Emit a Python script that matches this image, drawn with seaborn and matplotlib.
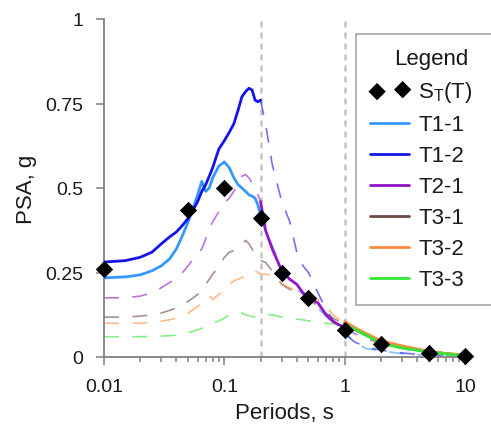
import numpy as np
import pandas as pd
import matplotlib
matplotlib.use("Agg")
import matplotlib.pyplot as plt
import seaborn as sns
from matplotlib.ticker import LogLocator, NullFormatter

# ---------------- data ----------------
periods = [0.01, 0.015, 0.02, 0.025, 0.03, 0.035, 0.04, 0.045, 0.05, 0.055,
           0.06, 0.065, 0.07, 0.075, 0.08, 0.09, 0.1, 0.11, 0.12, 0.13,
           0.14, 0.15, 0.16, 0.17, 0.18, 0.19, 0.2, 0.22, 0.25, 0.3,
           0.35, 0.4, 0.45, 0.5, 0.6, 0.7, 0.8, 0.9, 1.0, 1.2,
           1.5, 2.0, 3.0, 4.0, 5.0, 7.0, 10.0]

t1_1 = [0.234, 0.237, 0.243, 0.255, 0.27, 0.29, 0.32, 0.36, 0.40, 0.44,
        0.48, 0.52, 0.49, 0.50, 0.53, 0.565, 0.577, 0.56, 0.53, 0.51,
        0.50, 0.49, 0.48, 0.476, 0.47, 0.45, 0.42, 0.37, 0.33, 0.26,
        0.225, 0.20, 0.185, 0.17, 0.145, 0.12, 0.10, 0.085, 0.07, 0.045,
        0.025, 0.018, 0.01, 0.007, 0.005, 0.003, 0.002]

t1_2 = [0.281, 0.285, 0.295, 0.31, 0.335, 0.355, 0.37, 0.39, 0.41, 0.435,
        0.46, 0.49, 0.51, 0.535, 0.56, 0.615, 0.64, 0.665, 0.69, 0.73,
        0.77, 0.785, 0.795, 0.79, 0.76, 0.755, 0.76, 0.69, 0.57, 0.46,
        0.40, 0.31, 0.27, 0.25, 0.19, 0.14, 0.11, 0.09, 0.07, 0.045,
        0.03, 0.02, 0.012, 0.008, 0.006, 0.004, 0.002]

t2_1 = [0.175, 0.175, 0.18, 0.19, 0.205, 0.22, 0.235, 0.25, 0.27, 0.29,
        0.305, 0.32, 0.35, 0.38, 0.40, 0.43, 0.455, 0.47, 0.49, 0.51,
        0.535, 0.54, 0.53, 0.515, 0.50, 0.48, 0.46, 0.375, 0.32, 0.255,
        0.23, 0.215, 0.19, 0.175, 0.16, 0.125, 0.105, 0.095, 0.088, 0.07,
        0.055, 0.04, 0.025, 0.017, 0.012, 0.007, 0.004]

t3_1 = [0.118, 0.118, 0.121, 0.125, 0.13, 0.138, 0.145, 0.155, 0.165, 0.175,
        0.185, 0.195, 0.215, 0.23, 0.245, 0.265, 0.295, 0.31, 0.315, 0.325,
        0.335, 0.345, 0.335, 0.32, 0.30, 0.29, 0.285, 0.28, 0.255, 0.215,
        0.20, 0.19, 0.18, 0.17, 0.15, 0.13, 0.115, 0.105, 0.10, 0.082,
        0.065, 0.045, 0.03, 0.022, 0.016, 0.01, 0.005]

t3_2 = [0.10, 0.10, 0.10, 0.103, 0.106, 0.11, 0.115, 0.122, 0.13, 0.14,
        0.15, 0.16, 0.175, 0.18, 0.17, 0.185, 0.20, 0.215, 0.225, 0.23,
        0.235, 0.24, 0.245, 0.25, 0.255, 0.25, 0.245, 0.245, 0.24, 0.215,
        0.205, 0.195, 0.19, 0.185, 0.17, 0.15, 0.125, 0.11, 0.105, 0.088,
        0.07, 0.048, 0.033, 0.024, 0.017, 0.01, 0.006]

t3_3 = [0.06, 0.06, 0.06, 0.061, 0.062, 0.063, 0.065, 0.068, 0.072, 0.076,
        0.08, 0.085, 0.09, 0.095, 0.10, 0.107, 0.115, 0.125, 0.13, 0.133,
        0.13, 0.125, 0.122, 0.12, 0.118, 0.12, 0.122, 0.125, 0.125, 0.118,
        0.115, 0.112, 0.11, 0.107, 0.104, 0.10, 0.098, 0.097, 0.097, 0.082,
        0.065, 0.04, 0.027, 0.02, 0.015, 0.009, 0.004]

st_periods = [0.01, 0.05, 0.1, 0.2, 0.3, 0.5, 1.0, 2.0, 5.0, 10.0]
st_values = [0.26, 0.435, 0.50, 0.41, 0.25, 0.175, 0.08, 0.038, 0.012, 0.003]

series_names = ["T1-1", "T1-2", "T2-1", "T3-1", "T3-2", "T3-3"]
series_colors = ["#3399ff", "#1414e6", "#9414c8", "#6e4646", "#ff8a3d", "#33e633"]
solid_ranges = [(0.01, 0.2), (0.01, 0.2), (0.2, 1.0), (1.0, 10.0), (1.0, 10.0), (1.0, 10.0)]
x_ticks = [0.01, 0.1, 1, 10]
x_ticklabels = ["0.01", "0.1", "1", "10"]
y_ticks = [0, 0.25, 0.5, 0.75, 1]
y_ticklabels = ["0", "0.25", "0.5", "0.75", "1"]

# ---------------- style ----------------
sns.set_theme(style="white")
plt.rcParams["font.family"] = ["Liberation Sans", "DejaVu Sans"]
plt.rcParams["mathtext.fontset"] = "custom"
plt.rcParams["mathtext.rm"] = "Liberation Sans"

W, H = 491, 427
fig = plt.figure(figsize=(W / 100, H / 100), dpi=100)
ax = fig.add_axes([104 / W, 1 - 358 / H, (465 - 104) / W, (358 - 20) / H])

df = pd.DataFrame({"T": periods, "T1-1": t1_1, "T1-2": t1_2, "T2-1": t2_1,
                   "T3-1": t3_1, "T3-2": t3_2, "T3-3": t3_3})
long = df.melt(id_vars="T", var_name="series", value_name="PSA")

for v in (0.2, 1.0):
    ax.axvline(v, color="#c4c4c4", lw=1.8, ls=(0, (2.4, 2.0)), zorder=0)

for name, color, (lo, hi) in zip(series_names, series_colors, solid_ranges):
    sub = long[long["series"] == name]
    before = sub[sub["T"] <= lo]
    after = sub[sub["T"] >= hi]
    solid = sub[(sub["T"] >= lo) & (sub["T"] <= hi)]
    for part in (before, after):
        if len(part) > 1:
            sns.lineplot(data=part, x="T", y="PSA", ax=ax, color=color, lw=1.2,
                         alpha=0.6, linestyle=(0, (9, 8)), estimator=None,
                         sort=False, legend=False, zorder=2)
    sns.lineplot(data=solid, x="T", y="PSA", ax=ax, color=color, lw=2.0,
                 estimator=None, sort=False, label=name, zorder=3)

sns.scatterplot(x=st_periods, y=st_values, ax=ax, marker="D", s=78,
                color="black", edgecolor="black", linewidth=0,
                label=r"S$_\mathregular{T}$(T)", zorder=6, clip_on=False)

ax.set_xscale("log")
ax.set_xlim(0.01, 10)
ax.set_ylim(0, 1)
ax.set_xticks(x_ticks)
ax.set_xticklabels(x_ticklabels)
ax.xaxis.set_minor_locator(LogLocator(base=10, subs=np.arange(2, 10)))
ax.xaxis.set_minor_formatter(NullFormatter())
ax.set_yticks(y_ticks)
ax.set_yticklabels(y_ticklabels)

for s in ("top", "right"):
    ax.spines[s].set_visible(False)
for s in ("left", "bottom"):
    ax.spines[s].set_color("#808080")
    ax.spines[s].set_linewidth(1.3)

ax.tick_params(axis="both", which="major", direction="out", length=6, width=1.1,
               color="#808080", labelsize=14, labelcolor="#1a1a1a", pad=9,
               left=True, bottom=True)
ax.tick_params(axis="x", which="minor", direction="out", length=3.5, width=1.1,
               color="#808080", bottom=True)

ax.set_xlabel("Periods, s", fontsize=16, color="#1a1a1a", labelpad=5)
ax.set_ylabel("PSA, g", fontsize=16, color="#1a1a1a", labelpad=6)

handles, labels = ax.get_legend_handles_labels()
order = [labels.index(l) for l in [r"S$_\mathregular{T}$(T)"] + series_names]
leg = ax.legend([handles[i] for i in order], [labels[i] for i in order],
                title="Legend", loc="upper left",
                bbox_to_anchor=(356 / W, (H - 306) / H, 150 / W, (306 - 35) / H),
                bbox_transform=fig.transFigure, mode="expand", borderaxespad=0,
                frameon=True, fancybox=False, edgecolor="#a6a6a6", framealpha=1,
                scatterpoints=2, handlelength=1.75, handletextpad=0.4,
                borderpad=0.65, labelspacing=0.45, fontsize=16, title_fontsize=16)
leg.get_frame().set_linewidth(1.2)
for t in leg.get_texts():
    t.set_color("#1a1a1a")
leg.get_title().set_color("#1a1a1a")

fig.savefig("out.png", dpi=100)
